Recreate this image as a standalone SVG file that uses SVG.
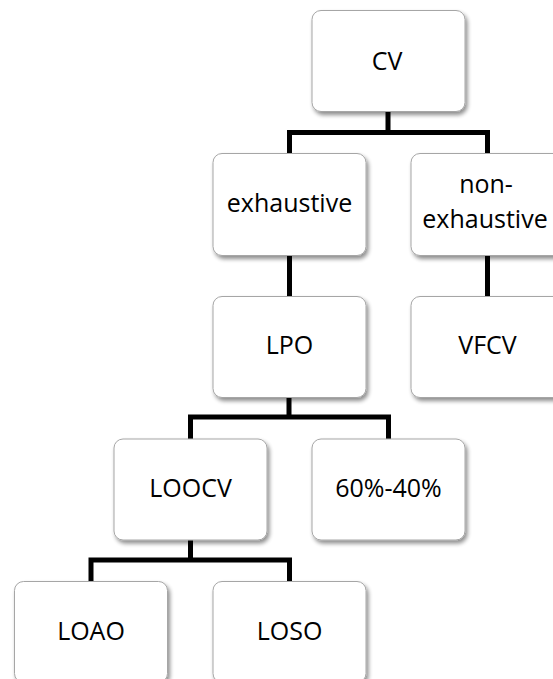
<svg xmlns="http://www.w3.org/2000/svg" width="553" height="679" viewBox="0 0 553 679">
  <defs>
    <filter id="shadow" x="-10%" y="-10%" width="125%" height="130%">
      <feGaussianBlur in="SourceAlpha" stdDeviation="2"/>
      <feOffset dx="2" dy="3" result="b"/>
      <feComponentTransfer><feFuncA type="linear" slope="0.45"/></feComponentTransfer>
      <feMerge><feMergeNode/><feMergeNode in="SourceGraphic"/></feMerge>
    </filter>
  </defs>
  <style>
    rect.box { fill: #ffffff; stroke: #a6a6a6; stroke-width: 1; filter: url(#shadow); }
    text { font-family: "Open Sans", "Liberation Sans", sans-serif; font-size: 25px; fill: #000000; text-anchor: middle; }
    .conn path { fill: none; stroke: #000000; stroke-width: 5; stroke-linejoin: miter; stroke-linecap: butt; }
  </style>
  <rect width="553" height="679" fill="#ffffff"/>
  <g class="conn" id="connectors">
    <path d="M388,111 V132.5 H289.5 V153.5 M388,132.5 H487.5 V153.5"/>
    <path d="M289.5,255.5 V296.5"/>
    <path d="M487.5,255.5 V296.5"/>
    <path d="M289,397.5 V417 H190.5 V439 M289,417 H388.5 V439"/>
    <path d="M190.5,540 V560 H91 V581.5 M190.5,560 H289.5 V581.5"/>
  </g>
  <g id="node-cv">
    <rect class="box" x="312" y="10.5" width="153" height="101" rx="9"/>
    <text x="387" y="70">CV</text>
  </g>
  <g id="node-exhaustive">
    <rect class="box" x="213" y="153.5" width="153" height="102" rx="9"/>
    <text x="289.5" y="212">exhaustive</text>
  </g>
  <g id="node-nonexhaustive">
    <rect class="box" x="411" y="153.5" width="153" height="102" rx="9"/>
    <text x="486" y="193">non-</text>
    <text x="485" y="228">exhaustive</text>
  </g>
  <g id="node-lpo">
    <rect class="box" x="213" y="296.5" width="153" height="101" rx="9"/>
    <text x="289.5" y="354">LPO</text>
  </g>
  <g id="node-vfcv">
    <rect class="box" x="411" y="296.5" width="153" height="101" rx="9"/>
    <text x="487.5" y="354">VFCV</text>
  </g>
  <g id="node-loocv">
    <rect class="box" x="114" y="439" width="153" height="101" rx="9"/>
    <text x="190.5" y="497">LOOCV</text>
  </g>
  <g id="node-6040">
    <rect class="box" x="312" y="439" width="153" height="101" rx="9"/>
    <text x="388.5" y="497">60%-40%</text>
  </g>
  <g id="node-loao">
    <rect class="box" x="14.5" y="581.5" width="153" height="101" rx="9"/>
    <text x="91" y="640">LOAO</text>
  </g>
  <g id="node-loso">
    <rect class="box" x="213" y="581.5" width="153" height="101" rx="9"/>
    <text x="289.5" y="640">LOSO</text>
  </g>
</svg>
